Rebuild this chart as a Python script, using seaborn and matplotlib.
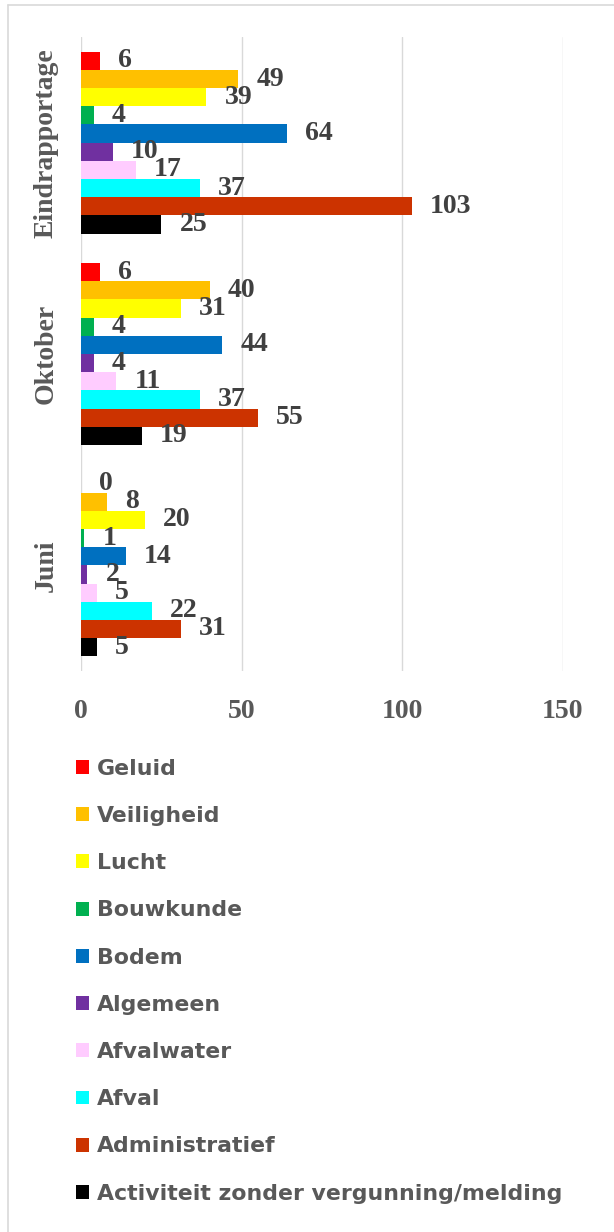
import matplotlib
matplotlib.use("Agg")
import matplotlib.pyplot as plt
from matplotlib.patches import Patch
from matplotlib.lines import Line2D
import seaborn as sns
import pandas as pd

# Inspection rounds and finding categories
periods = ["Eindrapportage", "Oktober", "Juni"]
categories = ["Geluid", "Veiligheid", "Lucht", "Bouwkunde", "Bodem", "Algemeen",
              "Afvalwater", "Afval", "Administratief",
              "Activiteit zonder vergunning/melding"]
eindrapportage = [6, 49, 39, 4, 64, 10, 17, 37, 103, 25]
oktober = [6, 40, 31, 4, 44, 4, 11, 37, 55, 19]
juni = [0, 8, 20, 1, 14, 2, 5, 22, 31, 5]
x_ticks = [0, 50, 100, 150]

colors = ["#FF0000", "#FFC000", "#FFFF00", "#00B050", "#0070C0", "#7030A0",
          "#FFCCFF", "#00FFFF", "#CC3300", "#000000"]

rows = []
for period, vals in zip(periods, [eindrapportage, oktober, juni]):
    for cat, v in zip(categories, vals):
        rows.append({"periode": period, "categorie": cat, "aantal": v})
df = pd.DataFrame(rows)

sns.set_theme(style="white")
serif = ["Liberation Serif", "DejaVu Serif"]
sans = ["DejaVu Sans"]
label_grey = "#595959"
value_grey = "#404040"

W, H = 614, 1232
fig = plt.figure(figsize=(W / 100, H / 100), dpi=100)
ax = fig.add_axes([81 / W, 1 - 671 / H, (563 - 81) / W, (671 - 37) / H])

sns.barplot(data=df, y="periode", x="aantal", hue="categorie", order=periods,
            hue_order=categories, palette=colors, orient="h", width=0.86,
            saturation=1, linewidth=0, dodge=True, legend=False, ax=ax)

ax.set_xlim(0, 150)
ax.set_xticks(x_ticks)
ax.set_xticklabels([str(t) for t in x_ticks], fontfamily=serif, fontweight="bold",
                   fontsize=20, color=label_grey)
ax.set_yticks(range(len(periods)))
ax.set_yticklabels(periods, fontfamily=serif, fontweight="bold", fontsize=20,
                   color=label_grey, rotation=90, va="center")
ax.tick_params(axis="x", length=0, pad=20)
ax.tick_params(axis="y", length=0, pad=16)
ax.set_xlabel("")
ax.set_ylabel("")
ax.grid(axis="x", color="#D9D9D9", linewidth=1)
ax.set_axisbelow(True)
for s in ax.spines.values():
    s.set_visible(False)

# value labels at the end of each bar
for container in ax.containers:
    ax.bar_label(container, fmt="%d", padding=13, fontfamily=serif,
                 fontweight="bold", fontsize=20, color=value_grey)

# legend below the plot
handles = [Patch(facecolor=c, edgecolor="none") for c in colors]
fig.legend(handles, categories, loc="upper left",
           bbox_to_anchor=(67 / W, 1 - 750 / H), frameon=False,
           prop={"family": sans, "weight": "bold", "size": 15.8},
           labelcolor=label_grey, handlelength=0.6, handleheight=0.6,
           handletextpad=0.36, labelspacing=1.24, borderaxespad=0)

# chart frame (left and top edges)
frame_col = "#D9D9D9"
fig.add_artist(Line2D([8 / W, 8 / W], [1 - 5 / H, 0],
                      transform=fig.transFigure, color=frame_col, linewidth=1.2))
fig.add_artist(Line2D([8 / W, 1], [1 - 5 / H, 1 - 5 / H],
                      transform=fig.transFigure, color=frame_col, linewidth=1.2))

fig.savefig("out.png", dpi=100)
